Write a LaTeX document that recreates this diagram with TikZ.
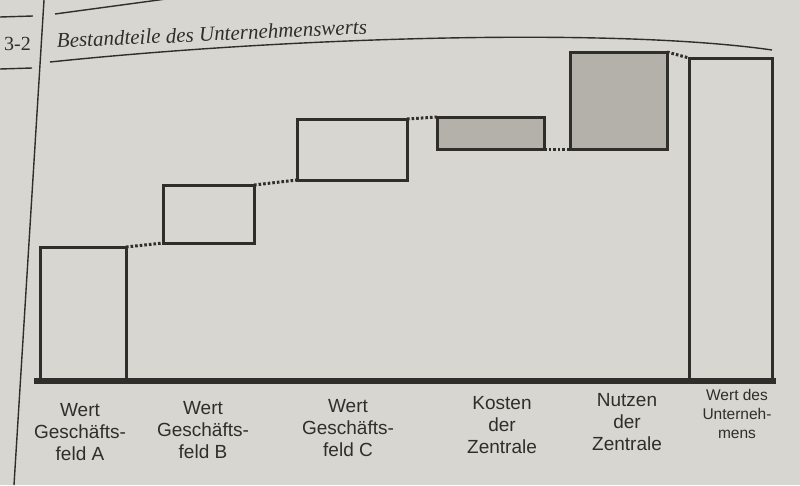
\documentclass[tikz,border=0pt]{standalone}
\usepackage{fontspec}
\setsansfont{Liberation Sans}
\newfontfamily\titlefont{Liberation Serif}
\definecolor{paper}{HTML}{D8D6D1}
\definecolor{ink}{HTML}{302E2B}
\definecolor{boxgray}{HTML}{B4B1AB}
\begin{document}
\begin{tikzpicture}[x=1pt,y=-1pt,
  bar/.style={draw=ink, line width=3pt, minimum width=#1, inner sep=0pt, outer sep=0pt, anchor=south west},
  dotline/.style={draw=ink, line width=3pt, dash pattern=on 2.6pt off 2pt},
  lbl/.style={font=\sffamily\fontsize{19}{22}\selectfont, text=ink, align=center, anchor=north, inner sep=0pt},
  lblsmall/.style={font=\sffamily\fontsize{15.5}{19}\selectfont, text=ink, align=center, anchor=north, inner sep=0pt},
  frame/.style={draw=ink, line width=1.4pt}]
\useasboundingbox[fill=paper] (0,0) rectangle (800,485);
% header
\draw[frame] (44,0) -- (14,485);
\draw[frame] (0,17) -- (33,16);
\draw[frame] (0,69) -- (32,68);
\draw[frame] (55,14) -- (166,-1);
\draw[frame] (50,62) .. controls (300,36) and (620,28) .. (772,50);
\node[font=\titlefont\fontsize{20}{24}\selectfont, text=ink, anchor=base east, inner sep=0pt] (num) at (31,50) {3-2};
\node[font=\titlefont\fontsize{21}{25}\selectfont\itshape, text=ink, anchor=base west, inner sep=0pt, rotate=2.6] (title) at (57,48) {Bestandteile des Unternehmenswerts};
% boxes
\node[bar=86pt, minimum height=134pt] (A) at (40,381) {};
\node[bar=91pt, minimum height=58pt] (B) at (163,243) {};
\node[bar=110pt, minimum height=61pt] (C) at (297,180) {};
\node[bar=107pt, minimum height=32pt, fill=boxgray] (K) at (437,149) {};
\node[bar=97pt, minimum height=97pt, fill=boxgray] (N) at (570,149) {};
\node[bar=83pt, minimum height=323pt] (W) at (689,381) {};
% baseline
\coordinate (bl) at (34,381);
\coordinate (br) at (776,381);
\draw[ink, line width=5.5pt] (bl) -- (br);
% dotted connectors
\draw[dotline] (A.north east) -- (B.south west);
\draw[dotline] (B.north east) -- (C.south west);
\draw[dotline] (C.north east) -- (K.north west);
\draw[dotline] (K.south east) -- (N.south west);
\draw[dotline] (N.north east) -- (W.north west);
% labels
\node[lbl] (lA) at (80,403) {Wert\\Geschäfts-\\feld A};
\node[lbl] (lB) at (203,401) {Wert\\Geschäfts-\\feld B};
\node[lbl] (lC) at (348,399) {Wert\\Geschäfts-\\feld C};
\node[lbl] (lK) at (502,396) {Kosten\\der\\Zentrale};
\node[lbl] (lN) at (627,393) {Nutzen\\der\\Zentrale};
\node[lblsmall] (lW) at (737,389) {Wert des\\Unterneh-\\mens};
\end{tikzpicture}
\end{document}
